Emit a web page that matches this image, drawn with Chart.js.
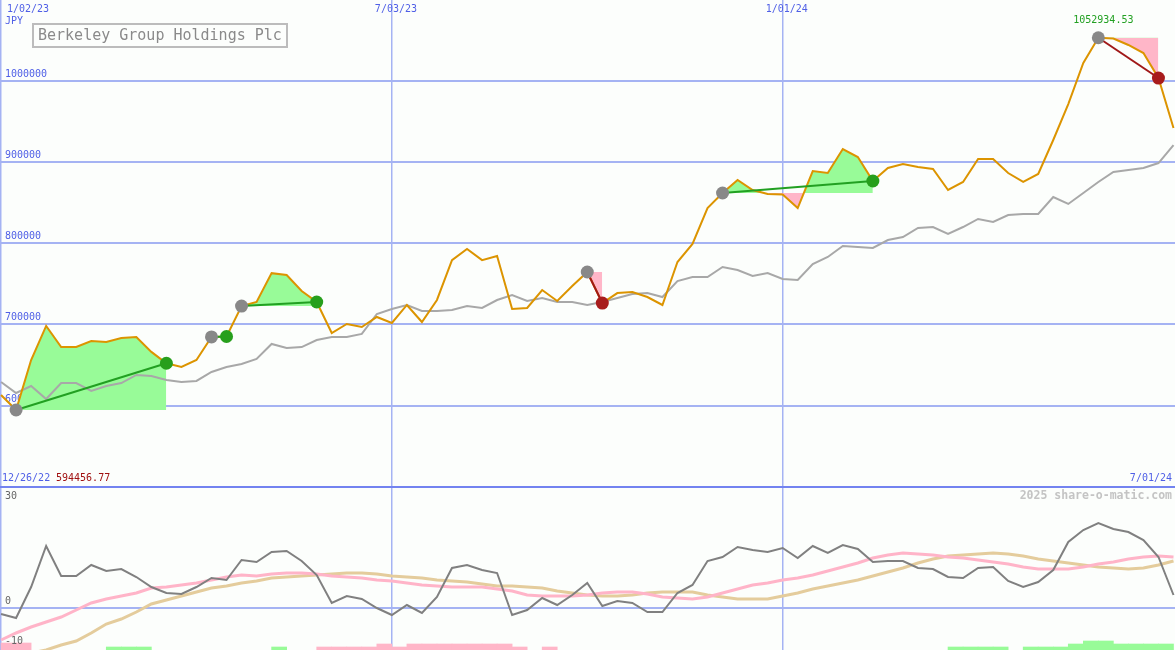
<!DOCTYPE html>
<html>
<head>
<meta charset="utf-8">
<script src="https://cdn.jsdelivr.net/npm/chart.js@4"></script>
<style>
  html, body { margin: 0; padding: 0; background: #fcfefc; }
  #wrap { position: relative; width: 1175px; height: 650px; overflow: hidden; background: #fcfefc; }
  #price { position: absolute; left: 0; top: 0; }
  #split { position: absolute; left: 0; top: 486px; width: 1175px; height: 2px; background: #7383f0; }
  #osc { position: absolute; left: 0; top: 488px; }
</style>
</head>
<body>
<div id="wrap">
  <canvas id="price" width="1175" height="486"></canvas>
  <div id="split"></div>
  <canvas id="osc" width="1175" height="162"></canvas>
</div>
<script>
// weekly data, index 0 = 1/02/23
const title = 'Berkeley Group Holdings Plc'
const currency = 'JPY'
const startDate = '12/26/22'
const endDate = '7/01/24'
const dateTickIdx = [0, 26, 52]
const dateTickLabels = ['1/02/23', '7/03/23', '1/01/24']
const priceTicks = [600000, 700000, 800000, 900000, 1000000]
const oscTicks = [-10, 0, 30]

const priceClose = [
	613000, 594456.77, 656000, 698000, 672000, 672000, 679500, 678200, 683000, 684400,
	666000, 652000, 647400, 656000, 684400, 685000, 722500, 727500, 763000, 760700,
	741000, 727500, 689300, 700400, 696700, 709000, 701600, 723800, 702800, 730000,
	779000, 792700, 779000, 784100, 718900, 720100, 742200, 728700, 747200, 764400,
	726200, 738500, 739800, 733600, 723800, 776700, 798900, 843200, 861700, 877700,
	865400, 860500, 859800, 843200, 888800, 886300, 915900, 906000, 876500, 892500,
	897400, 893700, 891300, 865400, 875300, 903600, 903600, 886300, 875300, 885100,
	927000, 971300, 1021800, 1052934.53, 1051900, 1044000, 1034100, 1003300, 941800,
]
const priceAvg = [
	629000, 615400, 624000, 608000, 627700, 627700, 617900, 624000, 627700, 637600,
	636300, 631400, 629000, 630200, 641300, 647400, 651100, 657300, 675800, 670800,
	672000, 680700, 684400, 684400, 688100, 712700, 718900, 723800, 716400, 716400,
	717600, 722500, 720100, 729900, 736100, 728700, 732400, 727500, 727500, 723800,
	727500, 732400, 737300, 738500, 733600, 753300, 758200, 758200, 770600, 766900,
	759500, 763200, 755800, 754600, 774300, 782900, 796400, 795200, 794000, 803800,
	807500, 818600, 819800, 811200, 819800, 829700, 826000, 834600, 835900, 835900,
	856800, 848200, 861700, 875300, 887600, 890000, 892500, 898600, 920800,
]
const signalEntry = [1, 14, 16, 39, 48, 73]
const signalExit = [11, 15, 21, 40, 58, 77]

const oscMain = [
	-1.5, -2.5, 5.25, 15.5, 8, 8, 10.75, 9.25, 9.75, 7.75,
	5.25, 3.75, 3.5, 5.25, 7.5, 7, 12, 11.5, 14, 14.25,
	11.75, 8.25, 1.25, 3, 2.25, 0, -1.75, 0.75, -1.25, 2.75,
	10, 10.75, 9.5, 8.75, -1.75, -0.5, 2.5, 0.75, 3.25, 6.25,
	0.5, 1.75, 1.25, -1, -1, 3.75, 5.75, 11.75, 12.75, 15.25,
	14.5, 14, 15, 12.5, 15.5, 13.75, 15.75, 14.75, 11.5, 11.75,
	11.75, 10, 9.75, 7.75, 7.5, 10, 10.25, 6.75, 5.25, 6.5,
	9.5, 16.5, 19.5, 21.25, 19.75, 19, 17, 12.75, 3.25,
]
const oscFast = [
	-8, -6.25, -4.75, -3.5, -2.25, -0.5, 1.25, 2.25, 3, 3.75,
	5, 5.25, 5.75, 6.25, 7, 7.75, 8.25, 8, 8.5, 8.75,
	8.75, 8.5, 8, 7.75, 7.5, 7, 6.75, 6.25, 5.75, 5.5,
	5.25, 5.25, 5.25, 4.75, 4.25, 3.25, 3, 3, 3, 3.25,
	3.75, 4, 4, 3.5, 2.75, 2.5, 2.25, 2.75, 3.75, 4.75,
	5.75, 6.25, 7, 7.5, 8.25, 9.25, 10.25, 11.25, 12.5, 13.25,
	13.75, 13.5, 13.25, 12.75, 12.5, 12, 11.5, 11, 10.25, 9.75,
	9.75, 9.75, 10.25, 11, 11.5, 12.25, 12.75, 13, 12.75,
]
const oscSlow = [
	-14, -12.5, -11.25, -10.5, -9.25, -8.25, -6.25, -4, -2.75, -1,
	1, 2, 3, 4, 5, 5.5, 6.25, 6.75, 7.5, 7.75,
	8, 8.25, 8.5, 8.75, 8.75, 8.5, 8, 7.75, 7.5, 7,
	6.75, 6.5, 6, 5.5, 5.5, 5.25, 5, 4.25, 3.75, 3.25,
	3, 3, 3.25, 3.75, 4, 4, 4, 3.25, 2.75, 2.25,
	2.25, 2.25, 3, 3.75, 4.75, 5.5, 6.25, 7, 8, 9,
	10, 11.25, 12.25, 13, 13.25, 13.5, 13.75, 13.5, 13, 12.25,
	11.75, 11.25, 10.75, 10.25, 10, 9.75, 10, 10.75, 11.75,
]
// histogram strip at the bottom, + green / - pink
const histBars = [
	-1.75, -1.75, 0, 0, 0, 0, 0, 0.75, 0.75, 0.75,
	0, 0, 0, 0, 0, 0, 0, 0, 0.75, 0,
	0, -0.75, -0.75, -0.75, -0.75, -1.5, -0.75, -1.5, -1.5, -1.5,
	-1.5, -1.5, -1.5, -1.5, -0.75, 0, -0.75, 0, 0, 0,
	0, 0, 0, 0, 0, 0, 0, 0, 0, 0,
	0, 0, 0, 0, 0, 0, 0, 0, 0, 0,
	0, 0, 0, 0.75, 0.75, 0.75, 0.75, 0, 0.75, 0.75,
	0.75, 1.5, 2.25, 2.25, 1.5, 1.5, 1.5, 1.5, 0,
]

const MONO = '"DejaVu Sans Mono", monospace'
const BLUE = '#4f5fe6'
const GRID = '#a5b3f3'
const GREEN_FILL = '#98fb98'
const PINK_FILL = '#ffb6c8'
const X_MIN = -0.07
const X_MAX = 78.1
const OSC_MIN = -10.5
const OSC_MAX = 30

const pts = arr => arr.map((v, i) => ({ x: i, y: v }))

function txt(ctx, s, x, y, color, font, align) {
	ctx.save()
	ctx.font = font
	ctx.fillStyle = color
	ctx.textAlign = align || 'left'
	ctx.textBaseline = 'middle'
	ctx.fillText(s, x, y)
	ctx.restore()
}

// signal datasets
const fillSets = []
const lineSets = []
const entryDots = []
const exitDots = []
const exitColors = []
for (let k = 0; k < signalEntry.length; k++) {
	const a = signalEntry[k]
	const b = signalExit[k]
	const win = priceClose[b] > priceClose[a]
	const span = []
	for (let i = a; i <= b; i++) span.push({ x: i, y: priceClose[i] })
	fillSets.push({
		data: span,
		borderWidth: 0,
		pointRadius: 0,
		fill: { target: { value: priceClose[a] }, above: GREEN_FILL, below: PINK_FILL },
		order: 5,
	})
	lineSets.push({
		data: [{ x: a, y: priceClose[a] }, { x: b, y: priceClose[b] }],
		borderColor: win ? '#22a022' : '#a01818',
		borderWidth: 2,
		pointRadius: 0,
		fill: false,
		order: 2,
	})
	entryDots.push({ x: a, y: priceClose[a] })
	exitDots.push({ x: b, y: priceClose[b] })
	exitColors.push(win ? '#279f1c' : '#a81c1c')
}

const makeX = () => ({
	type: 'linear',
	min: X_MIN,
	max: X_MAX,
	offset: false,
	afterBuildTicks: s => { s.ticks = dateTickIdx.map(v => ({ value: v })) },
	ticks: { display: false },
	grid: { color: GRID, lineWidth: 1.5, drawTicks: false, offset: false },
	border: { display: false },
})

const priceLabels = {
	id: 'priceLabels',
	beforeDatasetsDraw(chart) {
		const { ctx, scales: { y } } = chart
		priceTicks.forEach(v => txt(ctx, String(v), 5, y.getPixelForValue(v) - 6.5, BLUE, '10px ' + MONO))
	},
	afterDatasetsDraw(chart) {
		const { ctx, scales: { x, y } } = chart
		const f = '10px ' + MONO
		dateTickIdx.forEach((d, k) => txt(ctx, dateTickLabels[k], Math.max(7, x.getPixelForValue(d) - 17), 9, BLUE, f))
		txt(ctx, currency, 5, 21, BLUE, f)
		ctx.save()
		ctx.strokeStyle = '#bcbcbc'
		ctx.lineWidth = 2
		ctx.strokeRect(33, 24, 254, 23)
		ctx.restore()
		txt(ctx, title, 38, 36, '#8a8a8a', '15px ' + MONO)
		const hi = Math.max(...priceClose)
		const hiIdx = priceClose.indexOf(hi)
		txt(ctx, hi.toFixed(2), x.getPixelForValue(hiIdx) + 5, y.getPixelForValue(hi) - 17, '#22a022', f, 'center')
		const lo = Math.min(...priceClose)
		txt(ctx, startDate, 2, 478, BLUE, f)
		txt(ctx, lo.toFixed(2), 56, 478, '#a01010', f)
		txt(ctx, endDate, 1172, 478, BLUE, f, 'right')
	},
}

new Chart(document.getElementById('price'), {
	type: 'line',
	data: {
		datasets: [
			{
				data: entryDots,
				showLine: false,
				pointRadius: 6.5,
				pointBackgroundColor: '#888888',
				pointBorderWidth: 0,
				order: 0,
			},
			{
				data: exitDots,
				showLine: false,
				pointRadius: 6.5,
				pointBackgroundColor: exitColors,
				pointBorderWidth: 0,
				order: 1,
			},
			...lineSets,
			{
				data: pts(priceClose),
				borderColor: '#dc9400',
				borderWidth: 2,
				pointRadius: 0,
				fill: false,
				order: 3,
			},
			{
				data: pts(priceAvg),
				borderColor: '#a8a8a8',
				borderWidth: 2,
				pointRadius: 0,
				fill: false,
				order: 4,
			},
			...fillSets,
		],
	},
	options: {
		responsive: false,
		animation: false,
		layout: { padding: 0, autoPadding: false },
		plugins: { legend: { display: false }, tooltip: { enabled: false } },
		scales: {
			x: makeX(),
			y: {
				min: 500860,
				max: 1099400,
				afterBuildTicks: s => { s.ticks = priceTicks.map(v => ({ value: v })) },
				ticks: { display: false },
				grid: { color: GRID, lineWidth: 2, drawTicks: false },
				border: { display: false },
			},
		},
	},
	plugins: [priceLabels],
})

const oscLabels = {
	id: 'oscLabels',
	afterDatasetsDraw(chart) {
		const { ctx, scales: { y } } = chart
		oscTicks.forEach(v => txt(ctx, String(v), 5, Math.max(8, y.getPixelForValue(v) - 6.5), '#666666', '10px ' + MONO))
		txt(ctx, '2025 share-o-matic.com', 1172, 8, '#c4c4c4', 'bold 11.5px ' + MONO, 'right')
	},
}

const barPts = []
const barColors = []
histBars.forEach((h, i) => {
	if (!h) return
	barPts.push({ x: i + 0.5, y: [OSC_MIN, OSC_MIN + Math.abs(h)] })
	barColors.push(h > 0 ? GREEN_FILL : PINK_FILL)
})

new Chart(document.getElementById('osc'), {
	type: 'line',
	data: {
		datasets: [
			{ data: pts(oscMain), borderColor: '#808080', borderWidth: 2, pointRadius: 0, order: 0 },
			{ data: pts(oscFast), borderColor: '#ffb4c8', borderWidth: 3, pointRadius: 0, order: 1 },
			{ data: pts(oscSlow), borderColor: '#e4cc9c', borderWidth: 3, pointRadius: 0, order: 2 },
			{
				type: 'bar',
				data: barPts,
				backgroundColor: barColors,
				borderWidth: 0,
				barPercentage: 1,
				categoryPercentage: 1,
				grouped: false,
				order: 3,
			},
		],
	},
	options: {
		responsive: false,
		animation: false,
		layout: { padding: 0, autoPadding: false },
		plugins: { legend: { display: false }, tooltip: { enabled: false } },
		scales: {
			x: makeX(),
			y: {
				min: OSC_MIN,
				max: OSC_MAX,
				afterBuildTicks: s => { s.ticks = [{ value: 0 }] },
				ticks: { display: false },
				grid: { color: GRID, lineWidth: 2, drawTicks: false },
				border: { display: false },
			},
		},
	},
	plugins: [oscLabels],
})
</script>
</body>
</html>
